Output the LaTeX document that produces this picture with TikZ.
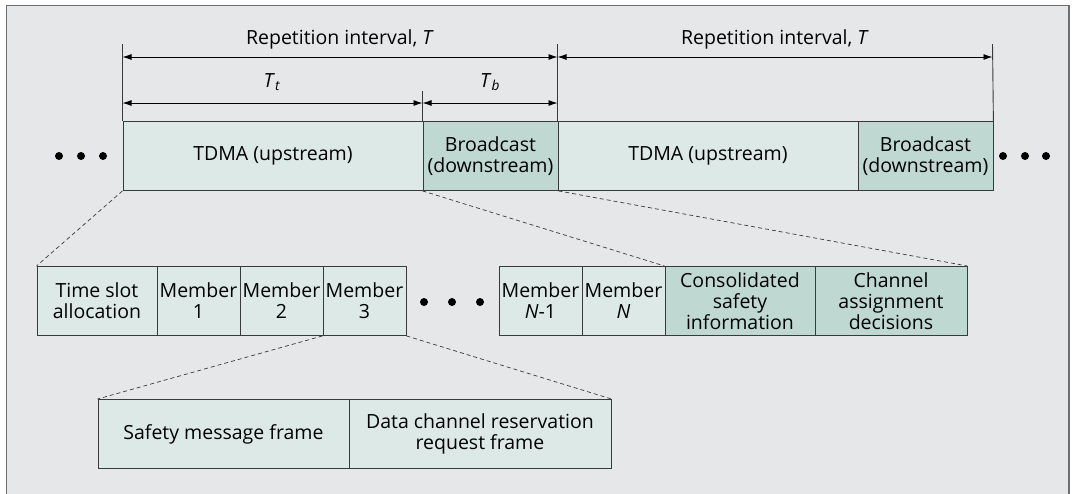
\documentclass[tikz,border=0pt]{standalone}
\usepackage{fontspec}
\setmainfont{Open Sans}
\usetikzlibrary{arrows.meta}
\definecolor{bgc}{HTML}{E6E7E8}
\definecolor{lightc}{HTML}{DDE9E6}
\definecolor{darkc}{HTML}{C0D8D2}
\definecolor{framec}{HTML}{6D6E70}
\definecolor{linec}{HTML}{3A3A3A}
\tikzset{
  cell/.style={draw=linec, line width=0.9pt, inner sep=0pt, anchor=north west, align=center,
    font=\fontsize{19.5}{21}\selectfont, text=black},
  lcell/.style={cell, fill=lightc},
  dcell/.style={cell, fill=darkc},
  dim/.style={line width=0.9pt, draw=black, {Latex[length=9pt,width=6pt]}-{Latex[length=9pt,width=6pt]}},
  ext/.style={line width=0.9pt, draw=linec},
  zoomline/.style={draw=linec, line width=0.7pt, dash pattern=on 4pt off 3pt},
  lbl/.style={font=\fontsize{19.5}{21}\selectfont, inner sep=0pt},
  dot/.style={fill=black}
}
\begin{document}
\begin{tikzpicture}[x=1pt,y=-1pt]
\useasboundingbox (0,0) rectangle (1078,493);
\fill[white] (0,0) rectangle (1078,493);
\draw[framec, line width=1.3pt, fill=bgc] (6.5,510) -- (6.5,5.5) -- (1069,5.5) -- (1069,510);

% top row
\node[lcell, minimum width=300pt, minimum height=69pt] (tdma1) at (122.5,121) {TDMA (upstream)};
\node[dcell, minimum width=135pt, minimum height=69pt] (bc1) at (422.5,121) {Broadcast\\(downstream)};
\node[lcell, minimum width=300pt, minimum height=69pt] (tdma2) at (557.5,121) {TDMA (upstream)};
\node[dcell, minimum width=135pt, minimum height=69pt] (bc2) at (857.5,121) {Broadcast\\(downstream)};

% extension lines
\coordinate (e1) at (122.5,44);
\coordinate (e2) at (422.5,91);
\coordinate (e3) at (557.5,44);
\coordinate (e4) at (992.5,44);
\draw[ext] (e1) -- (tdma1.north west);
\draw[ext] (e2) -- (bc1.north west);
\draw[ext] (e3) -- (tdma2.north west);
\draw[ext] (e4) -- (bc2.north east);

% dimension arrows
\coordinate (a1) at (122.5,57);
\coordinate (a2) at (557.5,57);
\coordinate (a3) at (992.5,57);
\coordinate (b1) at (122.5,103);
\coordinate (b2) at (422.5,103);
\coordinate (b3) at (557.5,103);
\draw[dim] (a1) -- (a2);
\draw[dim] (a2) -- (a3);
\draw[dim] (b1) -- (b2);
\draw[dim] (b2) -- (b3);
\node[lbl] (r1) at (340,39) {Repetition interval, \textit{T}};
\node[lbl] (r2) at (775,39) {Repetition interval, \textit{T}};
\node[lbl] (tt) at (272,82) {\textit{T}\textsubscript{\textit{t}}};
\node[lbl] (tb) at (490,82) {\textit{T}\textsubscript{\textit{b}}};

% dots top
\fill[dot] (59,156) circle (4pt) (81,156) circle (4pt) (103,156) circle (4pt);
\fill[dot] (1003,156) circle (4pt) (1025,156) circle (4pt) (1046,156) circle (4pt);

% second row
\node[lcell, minimum width=120pt, minimum height=69pt] (ts) at (36.5,266) {Time slot\\allocation};
\node[lcell, minimum width=83pt, minimum height=69pt] (m1) at (156.5,266) {Member\\1};
\node[lcell, minimum width=83pt, minimum height=69pt] (m2) at (239.5,266) {Member\\2};
\node[lcell, minimum width=83pt, minimum height=69pt] (m3) at (322.5,266) {Member\\3};
\fill[dot] (424,302) circle (4pt) (452,302) circle (4pt) (480,302) circle (4pt);
\node[lcell, minimum width=83pt, minimum height=69pt] (mn1) at (498.5,266) {Member\\\textit{N}-1};
\node[lcell, minimum width=83pt, minimum height=69pt] (mn) at (581.5,266) {Member\\\textit{N}};
\node[dcell, minimum width=150pt, minimum height=69pt] (cs) at (664.5,266) {Consolidated\\safety\\information};
\node[dcell, minimum width=152pt, minimum height=69pt] (ca) at (814.5,266) {Channel\\assignment\\decisions};

% third row
\node[lcell, minimum width=251pt, minimum height=69pt] (sm) at (97.5,399) {Safety message frame};
\node[lcell, minimum width=262pt, minimum height=69pt] (dc) at (348.5,399) {Data channel reservation\\request frame};

% zoom lines
\draw[zoomline] (tdma1.south west) -- (ts.north west);
\draw[zoomline] (bc1.south west) -- (cs.north west);
\draw[zoomline] (bc1.south east) -- (ca.north east);
\draw[zoomline] (m3.south west) -- (sm.north west);
\draw[zoomline] (m3.south east) -- (dc.north east);
\end{tikzpicture}
\end{document}
